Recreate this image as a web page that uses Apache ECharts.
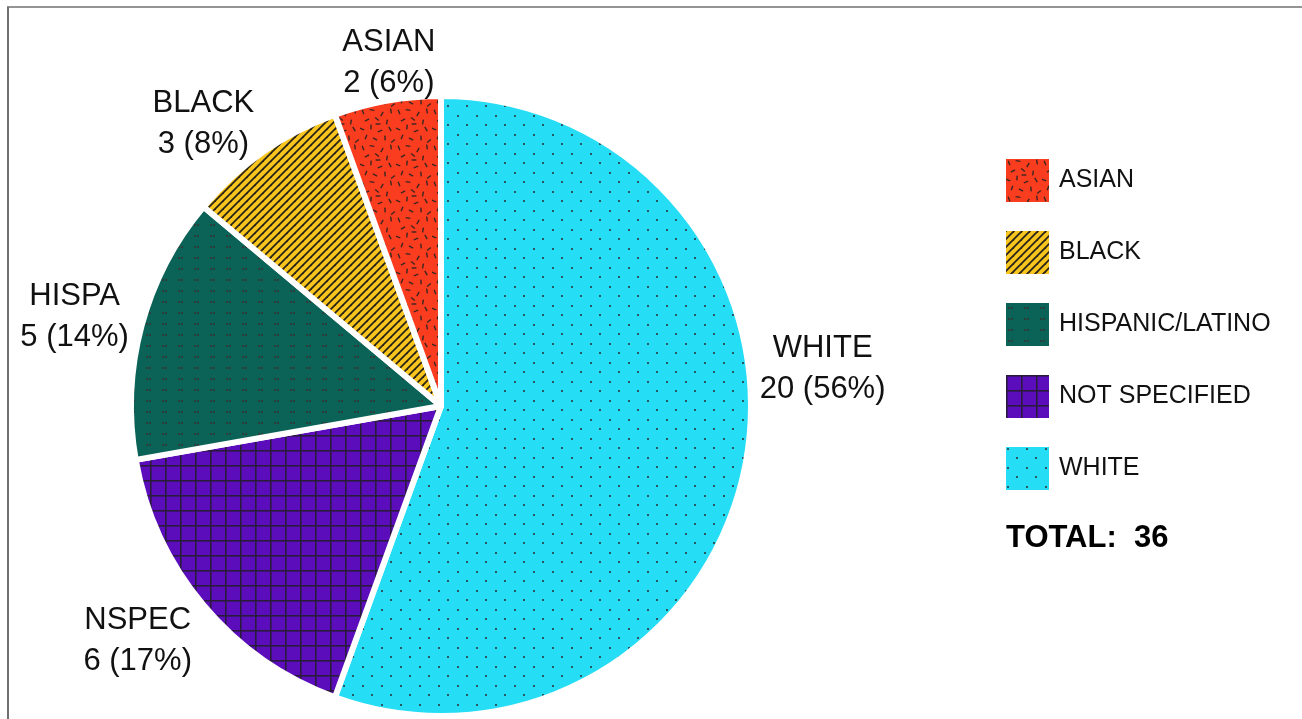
<!DOCTYPE html>
<html>
<head>
<meta charset="utf-8">
<script src="https://cdn.jsdelivr.net/npm/echarts@6/dist/echarts.min.js"></script>
<style>
  html, body { margin: 0; padding: 0; background: #ffffff; }
  #chart { width: 1302px; height: 719px; }
</style>
</head>
<body>
<div id="chart"></div>
<script>
// ---- data ----
const categories = ['ASIAN', 'BLACK', 'HISPANIC/LATINO', 'NOT SPECIFIED', 'WHITE'];
const shortNames = ['ASIAN', 'BLACK', 'HISPA', 'NSPEC', 'WHITE'];
const counts = [2, 3, 5, 6, 20];
// slices drawn clockwise from 12 o'clock in this order (indices into categories)
const sliceOrder = [4, 3, 2, 1, 0];

// ---- styles ----
const FONT = '"Liberation Sans", Arial, Helvetica, sans-serif';
const CX = 441, CY = 406, R = 310;
// small angular nudges (degrees) for label placement, by category
const labelAngleShift = { 'ASIAN': 1.5, 'BLACK': -4.5, 'HISPANIC/LATINO': -0.5, 'NOT SPECIFIED': 3, 'WHITE': -16.5 };

function tile(w, h, bg, draw) {
  const c = document.createElement('canvas');
  c.width = w; c.height = h;
  const g = c.getContext('2d');
  g.fillStyle = bg; g.fillRect(0, 0, w, h);
  draw(g);
  return c;
}
const confetti = [
  [3,4,70],[12,2,10],[22,6,120],[31,3,80],[7,12,150],[17,11,40],[27,14,100],
  [2,21,20],[11,19,95],[20,23,160],[30,21,60],[6,29,110],[15,31,30],[25,30,85],[33,33,140],[18,16,0]
];
const patterns = {
  'ASIAN': tile(36, 36, '#FA3D1F', g => {
    g.strokeStyle = '#3b2622'; g.lineWidth = 1.4; g.lineCap = 'butt';
    confetti.forEach(([x, y, a]) => {
      const r = a * Math.PI / 180, dx = Math.cos(r) * 2.4, dy = Math.sin(r) * 2.4;
      g.beginPath(); g.moveTo(x - dx, y - dy); g.lineTo(x + dx, y + dy); g.stroke();
    });
  }),
  'BLACK': tile(8, 8, '#F8C51E', g => {
    g.strokeStyle = '#2b2417'; g.lineWidth = 1.8;
    [[-8, 8, 8, -8], [0, 8, 8, 0], [0, 16, 16, 0]].forEach(([a, b, c, d]) => {
      g.beginPath(); g.moveTo(a, b); g.lineTo(c, d); g.stroke();
    });
  }),
  'HISPANIC/LATINO': tile(16, 11, '#0B6357', g => {
    g.fillStyle = '#2c3d3b';
    g.fillRect(2, 4, 2, 2); g.fillRect(5, 4, 2, 2);
  }),
  'NOT SPECIFIED': tile(15, 15, '#5B0DBB', g => {
    g.fillStyle = '#2a1a3c';
    g.fillRect(0, 0, 15, 1.6); g.fillRect(0, 0, 1.6, 15);
  }),
  'WHITE': tile(19, 19, '#25DDF5', g => {
    g.fillStyle = '#2a5862';
    g.fillRect(1, 1, 2, 2); g.fillRect(10, 10, 2, 2);
  })
};

const total = counts.reduce((a, b) => a + b, 0);
const pieData = sliceOrder.map(i => ({
  name: categories[i],
  value: counts[i],
  itemStyle: { color: { image: patterns[categories[i]], repeat: 'repeat' } }
}));
// mid angles (clockwise from 12 o'clock) for label placement
const midAngles = [];
(function () {
  let acc = 0;
  sliceOrder.forEach(i => {
    const a0 = acc / total * 2 * Math.PI;
    acc += counts[i];
    const a1 = acc / total * 2 * Math.PI;
    midAngles.push((a0 + a1) / 2 + (labelAngleShift[categories[i]] || 0) * Math.PI / 180);
  });
})();

const chart = echarts.init(document.getElementById('chart'), null, { renderer: 'canvas' });
chart.setOption({
  animation: false,
  backgroundColor: '#ffffff',
  graphic: [
    { type: 'line', shape: { x1: 7, y1: 7, x2: 1302, y2: 7 }, style: { stroke: '#707070', lineWidth: 1.6 }, silent: true },
    { type: 'line', shape: { x1: 8, y1: 7, x2: 8, y2: 719 }, style: { stroke: '#707070', lineWidth: 2 }, silent: true }
  ],
  title: {
    text: 'TOTAL:  ' + total,
    left: 1006, top: 523, padding: 0,
    textStyle: { fontFamily: FONT, fontSize: 31, fontWeight: 'bold', color: '#000' }
  },
  legend: {
    data: categories,
    orient: 'vertical',
    left: 1006, top: 159, padding: 0,
    itemWidth: 43, itemHeight: 43, itemGap: 29,
    icon: 'rect',
    selectedMode: false,
    itemStyle: { borderWidth: 0 },
    textStyle: { fontFamily: FONT, fontSize: 25, color: '#111', padding: [3, 0, 0, 5] }
  },
  series: [{
    type: 'pie',
    center: [CX, CY],
    radius: R,
    startAngle: 90,
    clockwise: true,
    avoidLabelOverlap: false,
    silent: true,
    emphasis: { disabled: true },
    itemStyle: { borderColor: '#ffffff', borderWidth: 6 },
    label: {
      show: true,
      position: 'outside',
      fontFamily: FONT, fontSize: 31, lineHeight: 41, color: '#111',
      formatter: p => shortNames[categories.indexOf(p.name)] + '\n' + p.value + ' (' + Math.round(p.value / total * 100) + '%)'
    },
    labelLine: { show: false },
    labelLayout: function (params) {
      const a = midAngles[params.dataIndex];
      const ux = Math.sin(a), uy = -Math.cos(a);
      const w = params.labelRect.width, h = params.labelRect.height;
      const d = R + 4 + Math.abs(ux) * (w / 2 + 4) + Math.abs(uy) * (h / 2 - 9);
      return { x: CX + ux * d, y: CY + uy * d + 6, align: 'center', verticalAlign: 'middle' };
    },
    data: pieData
  }]
});
</script>
</body>
</html>
